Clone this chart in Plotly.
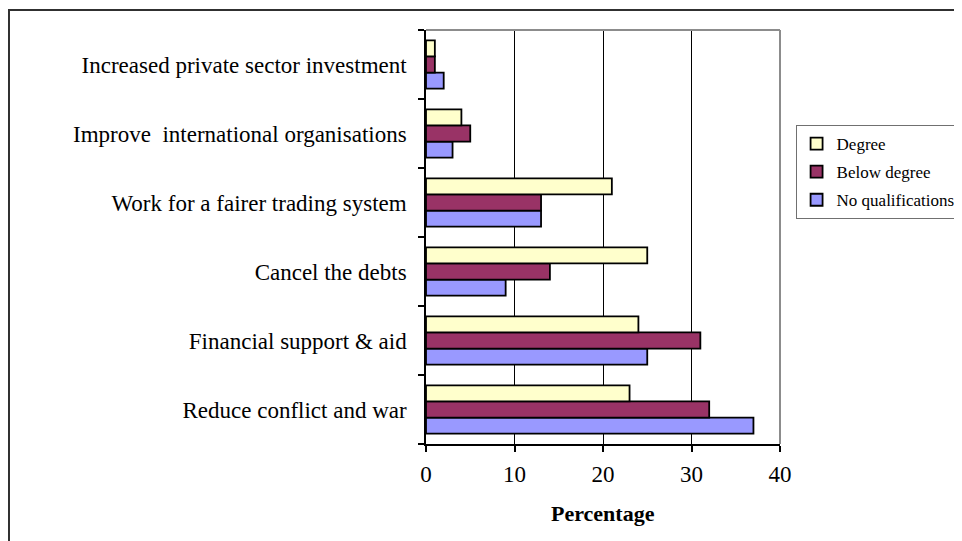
import plotly.graph_objects as go

# categories as they read from top to bottom
categories = [
    "Increased private sector investment",
    "Improve  international organisations",
    "Work for a fairer trading system",
    "Cancel the debts",
    "Financial support & aid",
    "Reduce conflict and war",
]
degree = [1, 4, 21, 25, 24, 23]
below_degree = [1, 5, 13, 14, 31, 32]
no_qualifications = [2, 3, 13, 9, 25, 37]

x_ticks = [0, 10, 20, 30, 40]

serif = "Liberation Serif, Times New Roman, serif"

fig = go.Figure()
# first trace sits lowest inside each group; rank puts Degree first in the legend
series = [
    ("No qualifications", no_qualifications, "#9999FF", 3),
    ("Below degree", below_degree, "#993366", 2),
    ("Degree", degree, "#FFFFCC", 1),
]
for name, vals, colour, rank in series:
    fig.add_trace(go.Bar(
        y=categories, x=vals, name=name, orientation="h",
        legendgroup=name, legendrank=rank,
        marker=dict(color=colour, line=dict(color="black", width=1.8)),
    ))

# page body has an 8px margin, so the figure is offset; the right side runs past the window
fig.update_layout(
    width=1000, height=541,
    margin=dict(l=418, r=228, t=22, b=105),
    paper_bgcolor="white", plot_bgcolor="white",
    barmode="group", bargap=0.3, bargroupgap=0,
    font=dict(family=serif, color="black", size=22),
    legend=dict(
        x=1.044, y=0.7705, xanchor="left", yanchor="top",
        traceorder="grouped", tracegroupgap=3,
        bordercolor="#707070", borderwidth=1,
        font=dict(family=serif, size=17, color="black"),
        bgcolor="white",
    ),
    showlegend=True,
)

fig.update_xaxes(
    range=[0, 40], tickvals=x_ticks, showgrid=True, gridcolor="black", gridwidth=1,
    showline=True, linecolor="black", linewidth=1.5,
    ticks="outside", ticklen=6, tickcolor="black", tickwidth=1.5,
    tickfont=dict(family=serif, size=23), ticklabelstandoff=3, zeroline=False,
)
fig.update_yaxes(
    categoryorder="array", categoryarray=categories[::-1],
    showline=True, linecolor="black", linewidth=1.5,
    ticks="outside", tickson="boundaries", ticklen=6, tickcolor="black", tickwidth=1.5,
    tickfont=dict(family=serif, size=23), ticklabelstandoff=13, showgrid=False,
)

# x axis title
fig.add_annotation(
    text="<b>Percentage</b>", xref="paper", yref="paper", x=0.5, y=-0.169,
    xanchor="center", yanchor="middle", showarrow=False,
    font=dict(family=serif, size=22, color="black"),
)

# grey top and right edges of the plot area
fig.add_shape(type="line", xref="paper", yref="paper", x0=0, x1=1, y0=1, y1=1,
              line=dict(color="#8c8c8c", width=2))
fig.add_shape(type="line", xref="paper", yref="paper", x0=1, x1=1, y0=0, y1=1,
              line=dict(color="#8c8c8c", width=2))
# outer chart frame
fig.add_shape(type="rect", xref="paper", yref="paper",
              x0=-1.178, x1=1.6, y0=-0.27, y1=1.0483,
              line=dict(color="#303030", width=2), layer="below")

fig.write_html("out.html")
